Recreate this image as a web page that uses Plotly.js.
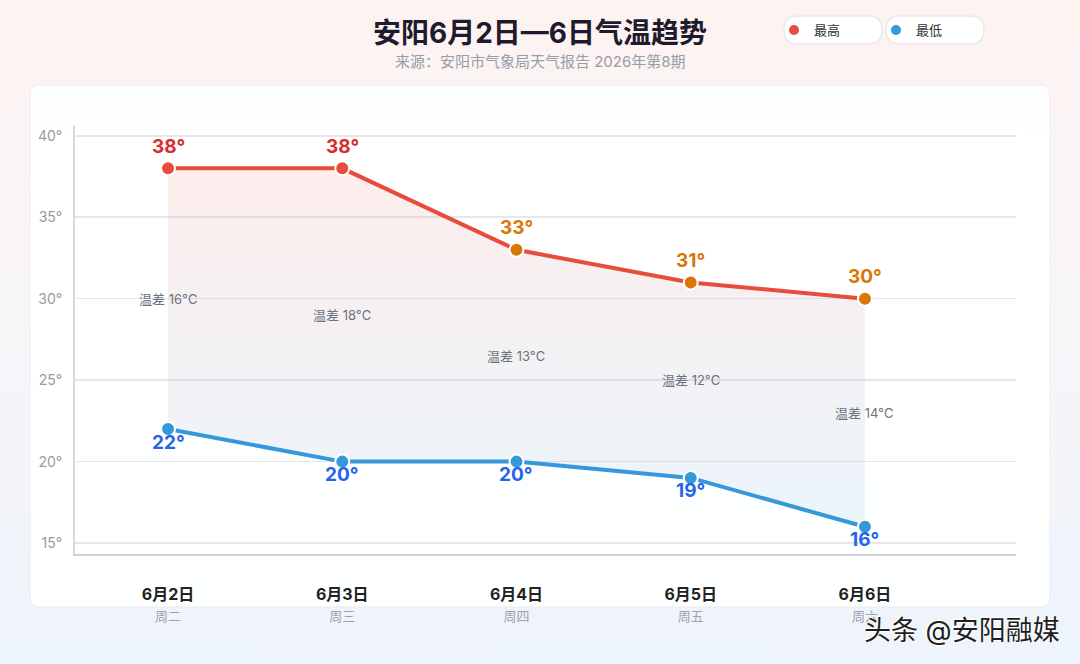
<!DOCTYPE html>
<html><head><meta charset="utf-8">
<script src="https://cdn.plot.ly/plotly-3.0.1.min.js"></script>
<style>
html,body{margin:0;padding:0;width:1080px;height:664px;overflow:hidden;
background:linear-gradient(180deg,#fdf3f1 0%,#f7f5f8 50%,#eef4fc 100%);}
#chart{width:1080px;height:664px;}
</style></head><body><div id="chart"></div>
<script>
// ---- data ----
const dates = ['6月2日','6月3日','6月4日','6月5日','6月6日'];
const weekdays = ['周二','周三','周四','周五','周六'];
const highs = [38, 38, 33, 31, 30];
const lows = [22, 20, 20, 19, 16];
const yTicks = [15, 20, 25, 30, 35, 40];
const seriesNames = ['最高', '最低'];
const highPointColors = ['#e74c3c','#e74c3c','#d97706','#d97706','#d97706'];
const highLabelColors = ['#d92d2d','#d92d2d','#d97706','#d97706','#d97706'];

// ---- layout helpers ----
const W = 1080, H = 664;
const M = {l: 75, r: 64, t: 126, b: 110};
const PW = W - M.l - M.r, PH = H - M.t - M.b;
const px = v => (v - M.l) / PW;
const py = v => (H - M.b - v) / PH;
const FONT = "Inter, 'Noto Sans CJK SC', 'Noto Sans', sans-serif";

function roundRect(x0, y0, x1, y1, r) {
  const X0 = px(x0), X1 = px(x1), Y0 = py(y0), Y1 = py(y1);
  const rx = r / PW, ry = r / PH;
  return `M${X0+rx},${Y0} L${X1-rx},${Y0} Q${X1},${Y0} ${X1},${Y0-ry} L${X1},${Y1+ry} Q${X1},${Y1} ${X1-rx},${Y1} L${X0+rx},${Y1} Q${X0},${Y1} ${X0},${Y1+ry} L${X0},${Y0-ry} Q${X0},${Y0} ${X0+rx},${Y0} Z`;
}

const traces = [
  {
    x: dates, y: lows, type: 'scatter', mode: 'lines+markers', showlegend: false,
    line: {color: '#3498db', width: 4},
    marker: {size: 14, color: '#3498db', line: {color: '#ffffff', width: 2}},
    hoverinfo: 'skip'
  },
  {
    x: dates, y: highs, type: 'scatter', mode: 'lines+markers', showlegend: false,
    fill: 'tonexty',
    fillgradient: {type: 'vertical', colorscale: [[0, 'rgba(52,152,219,0.10)'], [1, 'rgba(231,76,60,0.10)']]},
    line: {color: '#e74c3c', width: 4},
    marker: {size: 14, color: highPointColors, line: {color: '#ffffff', width: 2}},
    hoverinfo: 'skip'
  },
  {x: [null], y: [null], type: 'scatter', mode: 'markers', name: seriesNames[0],
   marker: {size: 10, color: '#e74c3c'}},
  {x: [null], y: [null], type: 'scatter', mode: 'markers', name: seriesNames[1],
   marker: {size: 10, color: '#3498db'}}
];

const annotations = [];
dates.forEach((d, i) => {
  annotations.push({x: d, y: highs[i], xref: 'x', yref: 'y', text: highs[i] + '°', showarrow: false,
    yshift: 22, font: {family: FONT, size: 19, weight: 'bold', color: highLabelColors[i]}});
  annotations.push({x: d, y: lows[i], xref: 'x', yref: 'y', text: lows[i] + '°', showarrow: false,
    yshift: -13, font: {family: FONT, size: 19, weight: 'bold', color: '#2563eb'}});
  annotations.push({x: d, y: (highs[i] + lows[i]) / 2, xref: 'x', yref: 'y',
    text: '温差 ' + (highs[i] - lows[i]) + '°C', showarrow: false,
    font: {family: FONT, size: 13, color: '#6b7280'}});
});
annotations.push({xref: 'paper', yref: 'paper', x: px(540), y: py(61), xanchor: 'center', yanchor: 'middle',
  text: '来源：安阳市气象局天气报告 2026年第8期',
  showarrow: false, font: {family: FONT, size: 15, color: '#979ca8'}});
annotations.push({xref: 'paper', yref: 'paper', x: px(962), y: py(630), xanchor: 'center', yanchor: 'middle',
  text: '头条 @安阳融媒',
  showarrow: false, font: {family: FONT, size: 27, color: '#1f1f1f', shadow: '1px 1px 1px #ffffff, -1px -1px 1px #ffffff'}});

const shapes = [
  {type: 'path', xref: 'paper', yref: 'paper', layer: 'below', path: roundRect(30, 85, 1050, 607, 10),
   fillcolor: 'rgba(255,255,255,0.92)', line: {color: 'rgba(230,232,238,0.8)', width: 1}},
  {type: 'path', xref: 'paper', yref: 'paper', layer: 'below', path: roundRect(784, 16, 882, 44, 14),
   fillcolor: '#ffffff', line: {color: '#ebe7ee', width: 1.5}},
  {type: 'path', xref: 'paper', yref: 'paper', layer: 'below', path: roundRect(886, 16, 984, 44, 14),
   fillcolor: '#ffffff', line: {color: '#ebe7ee', width: 1.5}}
];

const layout = {
  width: W, height: H,
  margin: M,
  paper_bgcolor: 'rgba(0,0,0,0)', plot_bgcolor: 'rgba(0,0,0,0)',
  font: {family: FONT},
  title: {text: '安阳6月2日—6日气温趋势', xref: 'container', yref: 'container', x: 0.5, y: 1 - 33 / H,
    xanchor: 'center', yanchor: 'middle', font: {family: FONT, size: 28, weight: 'bold', color: '#1e1b2e'}},
  showlegend: true,
  legend: {orientation: 'h', traceorder: 'normal', xref: 'paper', yref: 'paper', x: px(774), y: py(30), xanchor: 'left', yanchor: 'middle',
    bgcolor: 'rgba(0,0,0,0)', entrywidth: 57, entrywidthmode: 'pixels',
    font: {family: FONT, size: 13, color: '#333333'}},
  xaxis: {
    type: 'category', range: [-0.534, 4.867], fixedrange: true,
    tickvals: dates,
    ticktext: dates.map((d, i) => '<b>' + d + '</b><br><span style="font-size:13px;color:#9ca3af">' + weekdays[i] + '</span>'),
    tickfont: {family: FONT, size: 16, color: '#222222'},
    ticks: '', ticklabelstandoff: 25,
    showgrid: false, zeroline: false,
    showline: true, linecolor: '#cfd2d8', linewidth: 2
  },
  yaxis: {
    range: [14.33, 40.6], fixedrange: true,
    tickvals: yTicks, ticktext: yTicks.map(v => v + '°'),
    tickfont: {family: FONT, size: 14, color: '#9a9aa2'},
    ticks: '', ticklabelstandoff: 8,
    showgrid: true, gridcolor: '#e6e7eb', gridwidth: 1.5,
    zeroline: false, showline: true, linecolor: '#d6d8dd', linewidth: 2
  },
  annotations: annotations,
  shapes: shapes
};

Plotly.newPlot('chart', traces, layout, {displayModeBar: false, staticPlot: true});
</script></body></html>
